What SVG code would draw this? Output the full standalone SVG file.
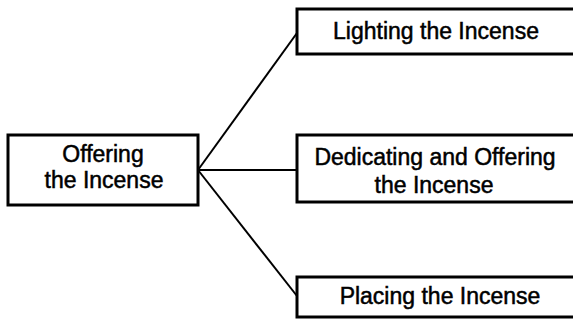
<svg xmlns="http://www.w3.org/2000/svg" width="573" height="321" viewBox="0 0 573 321">
  <style>
    .box { fill: #ffffff; stroke: #000000; stroke-width: 3; }
    .link { fill: none; stroke: #000000; stroke-width: 2; }
    .label { font-family: "Liberation Sans", Arial, sans-serif; font-size: 23px; fill: #000000; stroke: #000000; stroke-width: 0.5; text-anchor: middle; }
  </style>
  <rect width="573" height="321" fill="#ffffff"/>

  <!-- connectors from the root to each step -->
  <g id="connectors">
    <line class="link" x1="198" y1="170" x2="297" y2="33"/>
    <line class="link" x1="198" y1="170" x2="297" y2="170"/>
    <line class="link" x1="198" y1="170" x2="297" y2="296"/>
  </g>

  <g id="root">
    <rect class="box" x="8" y="135" width="190" height="70"/>
    <text class="label" x="103" y="162">Offering</text>
    <text class="label" x="104" y="188">the Incense</text>
  </g>

  <g id="lighting">
    <rect class="box" x="297" y="9" width="290" height="45"/>
    <text class="label" x="436" y="39">Lighting the Incense</text>
  </g>

  <g id="dedicating">
    <rect class="box" x="297" y="135" width="290" height="67"/>
    <text class="label" x="435" y="165">Dedicating and Offering</text>
    <text class="label" x="434" y="193">the Incense</text>
  </g>

  <g id="placing">
    <rect class="box" x="297" y="277" width="290" height="40"/>
    <text class="label" x="440" y="304">Placing the Incense</text>
  </g>
</svg>
